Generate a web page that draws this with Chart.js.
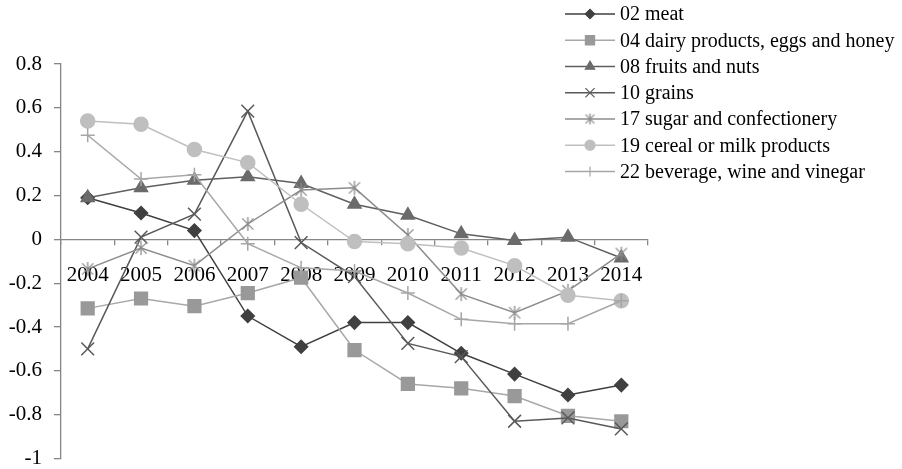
<!DOCTYPE html>
<html>
<head>
<meta charset="utf-8">
<script src="https://cdn.jsdelivr.net/npm/chart.js@4/dist/chart.umd.min.js"></script>
<style>
  html, body { margin: 0; padding: 0; background: #ffffff; }
  #wrap { width: 902px; height: 469px; }
</style>
</head>
<body>
<div id="wrap"><canvas id="c" width="902" height="469"></canvas></div>
<script>
// Years on the category axis
const years = ['2004', '2005', '2006', '2007', '2008', '2009', '2010', '2011', '2012', '2013', '2014'];

// Value axis ticks
const yTicks = [0.8, 0.6, 0.4, 0.2, 0, -0.2, -0.4, -0.6, -0.8, -1];

// Series names
const seriesNames = [
  '02 meat',
  '04 dairy products, eggs and honey',
  '08 fruits and nuts',
  '10 grains',
  '17 sugar and confectionery',
  '19 cereal or milk products',
  '22 beverage, wine and vinegar'
];

// Series values, 2004-2014
const meat      = [0.19, 0.12, 0.04, -0.35, -0.49, -0.38, -0.38, -0.52, -0.615, -0.71, -0.665];
const dairy     = [-0.315, -0.27, -0.305, -0.245, -0.175, -0.505, -0.66, -0.68, -0.715, -0.805, -0.83];
const fruits    = [0.19, 0.235, 0.27, 0.285, 0.255, 0.16, 0.11, 0.025, -0.005, 0.01, -0.085];
const grains    = [-0.5, 0.01, 0.115, 0.585, -0.015, -0.17, -0.475, -0.535, -0.83, -0.815, -0.865];
const sugar     = [-0.135, -0.04, -0.12, 0.07, 0.225, 0.235, 0.02, -0.25, -0.335, -0.235, -0.065];
const cereal    = [0.54, 0.525, 0.41, 0.35, 0.16, -0.01, -0.02, -0.04, -0.12, -0.255, -0.28];
const beverage  = [0.475, 0.275, 0.295, -0.02, -0.13, -0.145, -0.245, -0.365, -0.385, -0.385, -0.28];

const seriesValues = [meat, dairy, fruits, grains, sugar, cereal, beverage];

// Six-armed asterisk marker (an X with a vertical stroke)
function asterisk(half, color) {
  const size = Math.ceil(half * 2 + 4);
  const cv = document.createElement('canvas');
  cv.width = size; cv.height = size;
  const g = cv.getContext('2d');
  const c = size / 2;
  const d = half * 0.8;
  g.strokeStyle = color;
  g.lineWidth = 1.3;
  g.beginPath();
  g.moveTo(c - d, c - d); g.lineTo(c + d, c + d);
  g.moveTo(c + d, c - d); g.lineTo(c - d, c + d);
  g.moveTo(c, c - half); g.lineTo(c, c + half);
  g.stroke();
  return cv;
}

const SUGAR = '#8c8c8c';

// Look of each series: line colour, marker shape, marker fill
const styles = [
  { line: '#404040', style: 'rectRot',  r: 6.5, fill: '#404040', edge: '#404040' },
  { line: '#a8a8a8', style: 'rect',     r: 9,   fill: '#999999', edge: '#999999' },
  { line: '#5f5f5f', style: 'triangle', r: 7.5, fill: '#6b6b6b', edge: '#6b6b6b' },
  { line: '#595959', style: 'crossRot', r: 9,   fill: '#595959', edge: '#595959' },
  { line: SUGAR,     style: asterisk(7, SUGAR), r: 7, fill: SUGAR, edge: SUGAR, legendStyle: asterisk(5.5, SUGAR) },
  { line: '#bfbfbf', style: 'circle',   r: 7,   fill: '#bfbfbf', edge: '#bfbfbf' },
  { line: '#a6a6a6', style: 'cross',    r: 7,   fill: '#a6a6a6', edge: '#a6a6a6' }
];

const AXIS_COLOR = '#868686';
const FONT = "'Liberation Serif', 'Times New Roman', serif";

const datasets = seriesValues.map((vals, i) => ({
  label: seriesNames[i],
  data: vals,
  borderColor: styles[i].line,
  backgroundColor: styles[i].fill,
  borderWidth: 1.5,
  pointStyle: styles[i].style,
  pointRadius: styles[i].r,
  pointHoverRadius: styles[i].r,
  pointBackgroundColor: styles[i].fill,
  pointBorderColor: styles[i].edge,
  pointBorderWidth: 1.5,
  tension: 0,
  fill: false,
  order: seriesValues.length - i
}));

// Legend drawn as a column in the upper right, over the plot
const sideLegend = {
  id: 'sideLegend',
  afterDraw(chart) {
    const ctx = chart.ctx;
    const x0 = 565, x1 = 615, tx = 620, top = 14, step = 26.25;
    ctx.save();
    chart.data.datasets.forEach((ds, i) => {
      const y = top + i * step;
      ctx.beginPath();
      ctx.strokeStyle = ds.borderColor;
      ctx.lineWidth = 1.5;
      ctx.moveTo(x0, y);
      ctx.lineTo(x1, y);
      ctx.stroke();
      ctx.fillStyle = ds.pointBackgroundColor;
      ctx.strokeStyle = ds.pointBorderColor;
      ctx.lineWidth = 1.2;
      Chart.helpers.drawPoint(ctx, {
        pointStyle: styles[i].legendStyle || ds.pointStyle,
        rotation: 0,
        radius: ds.pointRadius * 0.72,
        borderWidth: 1.2
      }, (x0 + x1) / 2, y);
      ctx.fillStyle = '#000000';
      ctx.font = "20px " + FONT;
      ctx.textAlign = 'left';
      ctx.textBaseline = 'middle';
      ctx.fillText(ds.label, tx, y + 1);
    });
    ctx.restore();
  }
};

Chart.defaults.color = '#000000';
Chart.defaults.font.family = FONT;

new Chart(document.getElementById('c'), {
  type: 'line',
  data: { labels: years, datasets },
  plugins: [sideLegend],
  options: {
    responsive: false,
    animation: false,
    events: [],
    layout: { padding: { left: 9, right: 254, top: 64, bottom: 9 } },
    plugins: {
      legend: { display: false },
      tooltip: { enabled: false }
    },
    scales: {
      x: {
        type: 'category',
        position: { y: 0 },
        offset: true,
        grid: {
          offset: true,
          drawOnChartArea: false,
          drawTicks: true,
          tickLength: 5,
          color: AXIS_COLOR,
          lineWidth: 1.3
        },
        border: { display: true, color: AXIS_COLOR, width: 1.3 },
        ticks: {
          padding: 19,
          maxRotation: 0,
          autoSkip: false,
          font: { size: 21, family: FONT },
          color: '#000000'
        },
        afterFit(scale) {
          scale.height = 0;
          scale.paddingLeft = 0;
          scale.paddingRight = 0;
        }
      },
      y: {
        type: 'linear',
        position: 'left',
        min: -1,
        max: 0.8,
        afterBuildTicks(scale) { scale.ticks = yTicks.map(v => ({ value: v })); },
        grid: {
          drawOnChartArea: false,
          drawTicks: true,
          tickLength: 7,
          color: AXIS_COLOR,
          lineWidth: 1.3
        },
        border: { display: true, color: AXIS_COLOR, width: 1.3 },
        ticks: {
          padding: 12,
          font: { size: 21, family: FONT },
          color: '#000000',
          callback: (v) => String(Math.round(v * 10) / 10)
        },
        afterFit(scale) {
          scale.width = 52;
          scale.paddingTop = 0;
          scale.paddingBottom = 0;
        }
      }
    }
  }
});
</script>
</body>
</html>
